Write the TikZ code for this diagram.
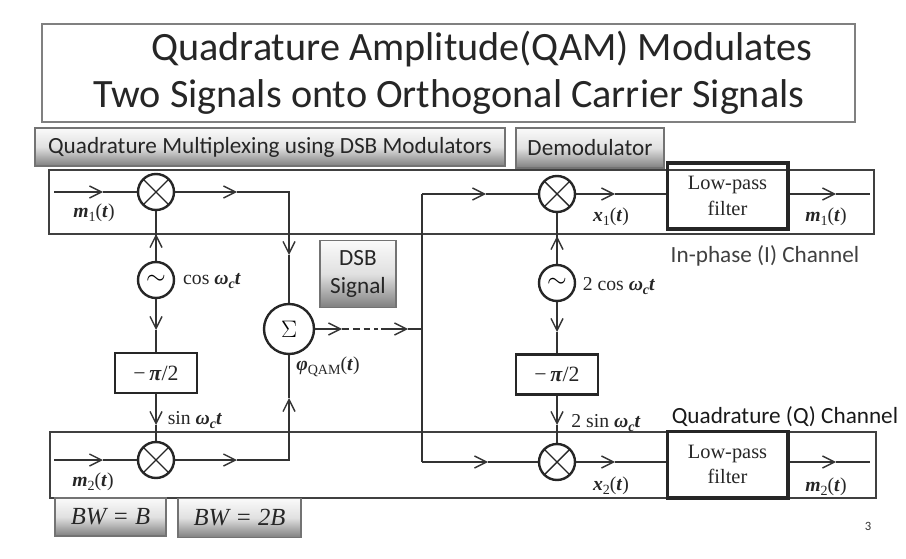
\documentclass[tikz,border=0pt]{standalone}
\usepackage{fix-cm}
\usepackage{fontspec}
\setmainfont{Liberation Serif}
\newfontfamily\slidefont{Carlito}
\usetikzlibrary{arrows.meta}
\newcommand{\sigvar}[1]{\textbf{\textit{#1}}}
\newcommand{\sigsub}[1]{\raisebox{-0.45ex}{\fontsize{10}{10}\selectfont #1}}
\tikzset{
  wire/.style={draw=black!80,line width=0.42mm},
  wirearrow/.style={wire,-{Straight Barb[length=3mm,width=3mm,line width=0.35mm]}},
  mixer/.style={circle,draw=black!85,line width=0.6mm,minimum size=9mm,inner sep=0pt,
    path picture={
      \draw[line width=0.35mm] (path picture bounding box.north west) -- (path picture bounding box.south east);
      \draw[line width=0.35mm] (path picture bounding box.north east) -- (path picture bounding box.south west);
    }},
  osc/.style={circle,draw=black!85,line width=0.6mm,minimum size=9mm,inner sep=0pt},
  shifter/.style={rectangle,draw=black!85,line width=0.55mm,minimum width=20.4mm,minimum height=10mm,
    text=black!85,font=\fontsize{15.5}{17}\selectfont},
  filterbox/.style={rectangle,draw=black!85,line width=0.8mm,minimum width=30.2mm,align=center,
    text=black!85,font=\fontsize{14.5}{18}\selectfont},
  channel/.style={rectangle,draw=black!75,line width=0.5mm},
  tabbox/.style={rectangle,draw=black!55,line width=0.35mm,top color=black!2,bottom color=black!50,middle color=black!12,
    text=black!85,font=\slidefont\fontsize{16.5}{20}\selectfont},
  bwbox/.style={tabbox,font=\itshape\fontsize{17.5}{20}\selectfont},
  sig/.style={text=black!85,font=\fontsize{14}{16}\selectfont},
  slidetext/.style={text=black!75,font=\slidefont\fontsize{16.5}{20}\selectfont},
  titletext/.style={text=black!85,font=\slidefont\fontsize{28.6}{34}\selectfont},
}
\begin{document}
\begin{tikzpicture}[x=0.25mm,y=-0.25mm]
\useasboundingbox (0,0) rectangle (906,559);
\node[rectangle,draw=black!50,line width=0.3mm,minimum width=203.2mm,minimum height=24.5mm] (titlebox) at (448.5,73) {};
\node[titletext] (titlea) at (482,49) {Quadrature Amplitude(QAM) Modulates};
\node[titletext] (titleb) at (449,97) {Two Signals onto Orthogonal Carrier Signals};
\node[tabbox,minimum width=117.5mm,minimum height=9.5mm] (tabmux) at (270,147) {Quadrature Multiplexing using DSB Modulators};
\node[tabbox,minimum width=37mm,minimum height=10mm] (tabdemod) at (590,148) {Demodulator};
\node[tabbox,align=center,minimum width=19mm,minimum height=16.7mm] (tabdsb) at (358,274) {DSB\\Signal};
\node[channel,minimum width=206.2mm,minimum height=16mm] (chani) at (461.5,202) {};
\node[channel,minimum width=206.5mm,minimum height=16.5mm] (chanq) at (463,465) {};
\node[bwbox,minimum width=27.7mm,minimum height=9.5mm] (tabbwa) at (110.5,517) {BW = B};
\node[bwbox,minimum width=30.7mm,minimum height=9.7mm] (tabbwb) at (239.5,518) {BW = 2B};
\node[mixer] (mula) at (156,192) {};
\node[osc,font=\fontsize{18}{18}\selectfont] (osca) at (156,280) {$\sim$};
\node[shifter] (shifta) at (156,373) {−\,\sigvar{π}/2};
\node[mixer] (mulb) at (156,460) {};
\node[osc,minimum size=12.5mm,font=\fontsize{17}{18}\selectfont] (summer) at (289,329) {$\Sigma$};
\node[mixer] (mulc) at (557,194) {};
\node[osc,font=\fontsize{18}{18}\selectfont] (oscb) at (557,283) {$\sim$};
\node[shifter] (shiftb) at (557,374.5) {−\,\sigvar{π}/2};
\node[mixer] (muld) at (557,462) {};
\node[filterbox,minimum height=16.5mm] (lpfa) at (727.5,196) {Low-pass\\filter};
\node[filterbox,minimum height=16.7mm] (lpfb) at (727.5,464.5) {Low-pass\\filter};
\coordinate (ina) at (54,192);
\coordinate (inb) at (54,460);
\coordinate (ina1) at (103,192);
\coordinate (inb1) at (103,460);
\coordinate (outa1) at (237,192);
\coordinate (outb1) at (237,460);
\coordinate (corna) at (289,192);
\coordinate (cornb) at (289,460);
\coordinate (suma1) at (289,255);
\coordinate (sumb1) at (289,398);
\coordinate (oscup) at (156,234);
\coordinate (oscdn) at (156,330);
\coordinate (shdn) at (156,425);
\coordinate (oscup2) at (557,236);
\coordinate (oscdn2) at (557,332);
\coordinate (shdn2) at (557,425);
\coordinate (dash1) at (342,329);
\coordinate (dash2) at (378,329);
\coordinate (dash3) at (381,329);
\coordinate (dash4) at (408,329);
\coordinate (join) at (422,329);
\coordinate (jointop) at (422,194);
\coordinate (joinbot) at (422,462);
\coordinate (cin1) at (486,194);
\coordinate (din1) at (488,462);
\coordinate (cout1) at (615,194);
\coordinate (dout1) at (615,462);
\coordinate (lout1) at (836,194);
\coordinate (lout2) at (870,194);
\coordinate (lout3) at (836,462);
\coordinate (lout4) at (870,462);
\draw[wirearrow] (ina) -- (ina1);
\draw[wire] (ina1) -- (mula);
\draw[wirearrow] (mula) -- (outa1);
\draw[wirearrow] (outa1) -- (corna) -- (suma1);
\draw[wire] (suma1) -- (summer);
\draw[wire] (osca) -- (mula);
\draw[wirearrow] (osca) -- (oscup);
\draw[wirearrow] (osca) -- (oscdn);
\draw[wire] (oscdn) -- (shifta);
\draw[wirearrow] (shifta) -- (shdn);
\draw[wire] (shdn) -- (mulb);
\draw[wirearrow] (inb) -- (inb1);
\draw[wire] (inb1) -- (mulb);
\draw[wirearrow] (mulb) -- (outb1);
\draw[wirearrow] (outb1) -- (cornb) -- (sumb1);
\draw[wire] (sumb1) -- (summer);
\draw[wirearrow] (summer) -- (dash1);
\draw[wire,dash pattern=on 1.7mm off 1mm] (dash1) -- (dash2);
\draw[wirearrow] (dash3) -- (dash4);
\draw[wire] (dash4) -- (join);
\draw[wire] (jointop) -- (joinbot);
\draw[wirearrow] (jointop) -- (cin1);
\draw[wire] (cin1) -- (mulc);
\draw[wirearrow] (joinbot) -- (din1);
\draw[wire] (din1) -- (muld);
\draw[wirearrow] (mulc) -- (cout1);
\draw[wire] (cout1) -- (lpfa.west |- cout1);
\draw[wirearrow] (muld) -- (dout1);
\draw[wire] (dout1) -- (lpfb.west |- dout1);
\draw[wire] (oscb) -- (mulc);
\draw[wirearrow] (oscb) -- (oscup2);
\draw[wirearrow] (oscb) -- (oscdn2);
\draw[wire] (oscdn2) -- (shiftb);
\draw[wirearrow] (shiftb) -- (shdn2);
\draw[wire] (shdn2) -- (muld);
\draw[wirearrow] (lpfa.east |- lout1) -- (lout1);
\draw[wire] (lout1) -- (lout2);
\draw[wirearrow] (lpfb.east |- lout3) -- (lout3);
\draw[wire] (lout3) -- (lout4);
\node[sig] (labma) at (94,213) {\sigvar{m}\sigsub{1}(\sigvar{t})};
\node[sig] (labmb) at (93,482) {\sigvar{m}\sigsub{2}(\sigvar{t})};
\node[sig] (labcosa) at (212,281) {cos \sigvar{ω}\sigsub{\sigvar{c}}\sigvar{t}};
\node[sig] (labsina) at (195,420) {sin \sigvar{ω}\sigsub{\sigvar{c}}\sigvar{t}};
\node[sig] (labphi) at (328,367) {\sigvar{φ}\sigsub{QAM}(\sigvar{t})};
\node[sig] (labxa) at (611,217) {\sigvar{x}\sigsub{1}(\sigvar{t})};
\node[sig] (labxb) at (611,486) {\sigvar{x}\sigsub{2}(\sigvar{t})};
\node[sig] (labcosb) at (619,286) {2 cos \sigvar{ω}\sigsub{\sigvar{c}}\sigvar{t}};
\node[sig] (labsinb) at (606,423) {2 sin \sigvar{ω}\sigsub{\sigvar{c}}\sigvar{t}};
\node[sig] (labmc) at (826,217) {\sigvar{m}\sigsub{1}(\sigvar{t})};
\node[sig] (labmd) at (826,487) {\sigvar{m}\sigsub{2}(\sigvar{t})};
\node[slidetext] (labi) at (765,256) {In-phase (I) Channel};
\node[slidetext,text=black!90] (labq) at (785,417) {Quadrature (Q) Channel};
\node[font=\slidefont\fontsize{9}{11}\selectfont,text=black!80] (pagenum) at (868,526) {3};
\end{tikzpicture}
\end{document}
